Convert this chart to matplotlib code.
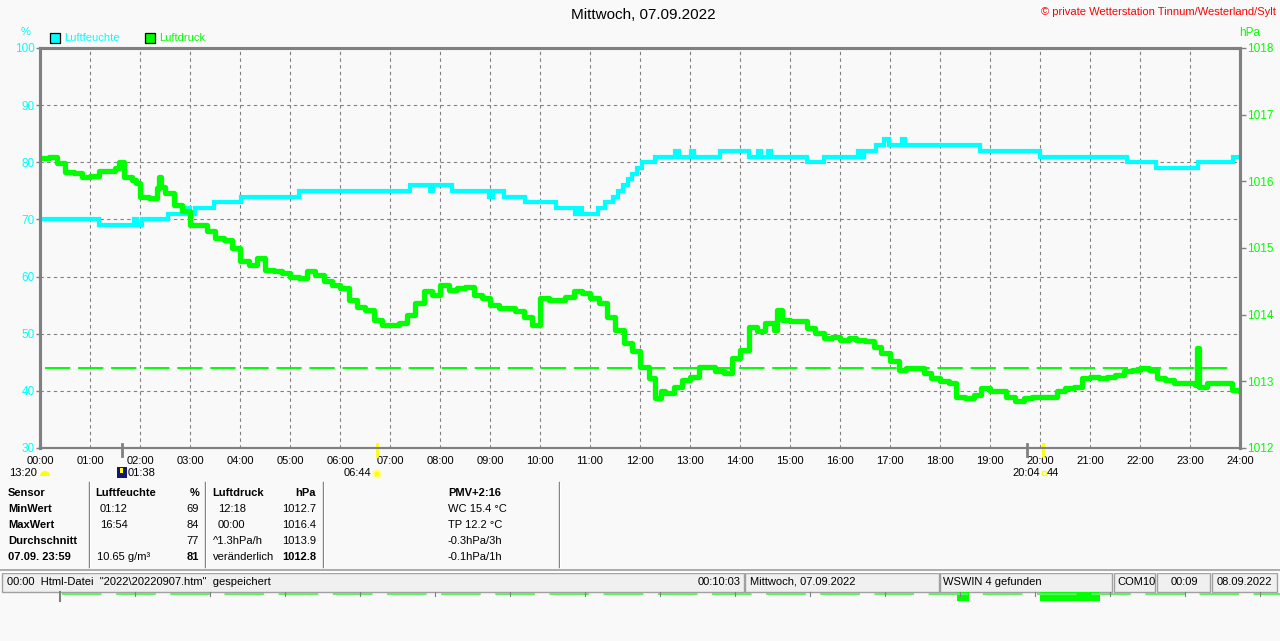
import matplotlib
matplotlib.use("Agg")
import matplotlib.pyplot as plt
from matplotlib.patches import Rectangle, Wedge, Circle

plt.rcParams['font.family'] = ['Liberation Sans', 'DejaVu Sans']

BG = "#f9f9f9"
CYAN = "#00ffff"
GREEN = "#00ff00"
GRAY = "#808080"

# Luftfeuchte (%), change points (hour, value), drawn as steps
hum_t = [0.0, 1.18, 1.87, 1.93, 2.03, 2.55, 2.93, 3.0, 3.1, 3.47, 4.01, 5.17,
         7.4, 7.8, 7.86, 8.23, 8.97, 9.05, 9.27, 9.7, 10.32, 10.7, 10.76, 10.84,
         11.16, 11.3, 11.45, 11.55, 11.65, 11.75, 11.83, 11.93, 12.03, 12.3,
         12.7, 12.78, 13.02, 13.08, 13.6, 14.17, 14.36, 14.42, 14.56, 14.61,
         15.33, 15.67, 16.35, 16.42, 16.47, 16.72, 16.87, 16.97, 17.23, 17.31,
         18.79, 20.0, 21.73, 22.32, 23.15, 23.85, 24.0]
hum_v = [70, 69, 70, 69, 70, 71, 72, 71, 72, 73, 74, 75,
         76, 75, 76, 75, 74, 75, 74, 73, 72, 71, 72, 71,
         72, 73, 74, 75, 76, 77, 78, 79, 80, 81,
         82, 81, 82, 81, 82, 81, 82, 81, 82, 81,
         80, 81, 82, 81, 82, 83, 84, 83, 84, 83,
         82, 81, 80, 79, 80, 81, 81]

# Luftdruck (hPa)
press_t = [0.00, 0.17, 0.33, 0.50, 0.67, 0.83, 1.00, 1.17, 1.33, 1.50, 1.58, 1.67,
           1.83, 1.92, 2.00, 2.17, 2.33, 2.37, 2.42, 2.50, 2.67, 2.83, 3.00, 3.17,
           3.33, 3.50, 3.67, 3.83, 4.00, 4.17, 4.33, 4.50, 4.67, 4.83, 5.00, 5.17,
           5.33, 5.50, 5.67, 5.83, 6.00, 6.17, 6.33, 6.50, 6.67, 6.83, 7.00, 7.17,
           7.33, 7.50, 7.67, 7.83, 8.00, 8.17, 8.33, 8.50, 8.67, 8.83, 9.00, 9.17,
           9.33, 9.50, 9.67, 9.83, 10.00, 10.17, 10.33, 10.50, 10.67, 10.83, 11.00,
           11.17, 11.33, 11.50, 11.67, 11.83, 12.00, 12.17, 12.30, 12.42, 12.50,
           12.67, 12.83, 13.00, 13.17, 13.33, 13.50, 13.67, 13.83, 14.00, 14.17,
           14.33, 14.50, 14.67, 14.73, 14.83, 15.00, 15.17, 15.33, 15.50, 15.67,
           15.83, 16.00, 16.17, 16.33, 16.50, 16.67, 16.83, 17.00, 17.17, 17.33,
           17.50, 17.67, 17.83, 18.00, 18.17, 18.33, 18.50, 18.67, 18.83, 19.00,
           19.17, 19.33, 19.50, 19.67, 19.83, 20.00, 20.17, 20.33, 20.50, 20.67,
           20.83, 21.00, 21.17, 21.33, 21.50, 21.67, 21.83, 22.00, 22.17, 22.33,
           22.50, 22.67, 22.83, 23.00, 23.10, 23.13, 23.17, 23.33, 23.50, 23.67,
           23.83, 24.00]
press_v = [1016.35, 1016.37, 1016.27, 1016.14, 1016.12, 1016.07, 1016.08, 1016.15,
           1016.15, 1016.20, 1016.29, 1016.07, 1016.02, 1015.97, 1015.77, 1015.75,
           1015.90, 1016.07, 1015.92, 1015.82, 1015.65, 1015.55, 1015.35, 1015.35,
           1015.25, 1015.15, 1015.12, 1015.00, 1014.80, 1014.75, 1014.85, 1014.67,
           1014.65, 1014.62, 1014.57, 1014.55, 1014.65, 1014.60, 1014.50, 1014.45,
           1014.40, 1014.22, 1014.12, 1014.07, 1013.92, 1013.85, 1013.85, 1013.87,
           1014.00, 1014.17, 1014.35, 1014.30, 1014.45, 1014.37, 1014.40, 1014.42,
           1014.30, 1014.25, 1014.15, 1014.10, 1014.10, 1014.05, 1013.97, 1013.85,
           1014.25, 1014.22, 1014.22, 1014.27, 1014.35, 1014.32, 1014.25, 1014.17,
           1013.97, 1013.77, 1013.57, 1013.45, 1013.22, 1013.05, 1012.75, 1012.85,
           1012.82, 1012.92, 1013.02, 1013.07, 1013.22, 1013.22, 1013.15, 1013.12,
           1013.35, 1013.47, 1013.82, 1013.75, 1013.87, 1013.77, 1014.07, 1013.92,
           1013.90, 1013.90, 1013.80, 1013.72, 1013.65, 1013.67, 1013.62, 1013.65,
           1013.62, 1013.60, 1013.52, 1013.42, 1013.30, 1013.17, 1013.20, 1013.20,
           1013.12, 1013.05, 1013.00, 1012.97, 1012.77, 1012.75, 1012.80, 1012.90,
           1012.85, 1012.85, 1012.77, 1012.71, 1012.75, 1012.77, 1012.77, 1012.77,
           1012.85, 1012.90, 1012.92, 1013.05, 1013.07, 1013.05, 1013.07, 1013.10,
           1013.15, 1013.17, 1013.20, 1013.17, 1013.05, 1013.02, 1012.97, 1012.97,
           1012.97, 1012.95, 1013.50, 1012.92, 1012.97, 1012.97, 1012.97, 1012.87,
           1012.85]
press_ref = 1013.2

hours = list(range(25))
hour_labels = ["%02d:00" % h for h in hours]
hum_ticks = list(range(30, 101, 10))
press_ticks = list(range(1012, 1019))

# sun / moon events (hours)
moon_rise = 1 + 38 / 60
sun_rise = 6 + 44 / 60
moon_set = 19 + 44 / 60
sun_set = 20 + 4 / 60

table_rows = [
    ["Sensor", "Luftfeuchte", "%", "Luftdruck", "hPa", "PMV+2:16"],
    ["MinWert", "01:12", "69", "12:18", "1012.7", "WC 15.4 °C"],
    ["MaxWert", "16:54", "84", "00:00", "1016.4", "TP 12.2 °C"],
    ["Durchschnitt", "", "77", "^1.3hPa/h", "1013.9", "-0.3hPa/3h"],
    ["07.09. 23:59", "10.65 g/m³", "81", "veränderlich", "1012.8", "-0.1hPa/1h"],
]

W, H = 1280, 641
fig = plt.figure(figsize=(W / 100, H / 100), dpi=100, facecolor=BG)

# overlay in pixel coordinates for the window decorations
ov = fig.add_axes([0, 0, 1, 1])
ov.set_xlim(0, W)
ov.set_ylim(H, 0)
ov.axis("off")

ax = fig.add_axes([40 / W, 1 - 448 / H, 1200 / W, 400 / H], facecolor=BG)
ax2 = ax.twinx()

ax.plot(hum_t, hum_v, color=CYAN, lw=3.0, drawstyle="steps-post", solid_joinstyle="miter")
ax2.plot(press_t, press_v, color=GREEN, lw=3.8, drawstyle="steps-post")
ax2.axhline(press_ref, xmin=0.004, xmax=0.992, color=GREEN, lw=1.4, dashes=(13, 4))

ax.set_xlim(0, 24)
ax.set_ylim(30, 100)
ax2.set_ylim(1012, 1018)
ax.set_xticks(hours)
ax.set_xticklabels(hour_labels)
ax.set_yticks(hum_ticks)
ax2.set_yticks(press_ticks)
ax.grid(True, color=GRAY, lw=0.8, dashes=(3, 3))

for a in (ax, ax2):
    for s in a.spines.values():
        s.set_color(GRAY)
        s.set_linewidth(2.2)
    a.spines["bottom"].set_linewidth(1.5)

ax.tick_params(axis="x", length=0, pad=6, labelsize=8, labelcolor="black")
ax.tick_params(axis="y", length=3, width=1, color=GRAY, pad=1, labelsize=8.5, labelcolor=CYAN)
ax2.tick_params(axis="y", length=4, width=1, color=GRAY, pad=1, labelsize=8.5, labelcolor=GREEN)

# event marks on the time axis
tr = ax.get_xaxis_transform()
for t, c in [(moon_rise, GRAY), (sun_rise, "#ffff00"), (moon_set, GRAY), (sun_set, "#ffff00")]:
    ax.plot([t, t], [0.01, -0.021], transform=tr, color=c, lw=2, clip_on=False, zorder=5)

# titles and legend
ov.text(643, 15, "Mittwoch, 07.09.2022", ha="center", va="center", fontsize=11)
ov.text(1276, 12, "© private Wetterstation Tinnum/Westerland/Sylt", ha="right", va="center",
        fontsize=8, color="red")
ov.text(26, 32, "%", ha="center", va="center", fontsize=8, color=CYAN)
ov.text(1250, 33, "hPa", ha="center", va="center", fontsize=8.5, color=GREEN)
ov.add_patch(Rectangle((50, 33), 10, 9.5, facecolor=CYAN, edgecolor="black", lw=0.9))
ov.text(64, 38, "Luftfeuchte", va="center", fontsize=8, color=CYAN)
ov.add_patch(Rectangle((145, 33), 10, 9.5, facecolor=GREEN, edgecolor="black", lw=0.9))
ov.text(159, 38, "Luftdruck", va="center", fontsize=8, color=GREEN)

# sun / moon annotations
ov.text(37, 473, "13:20", ha="right", va="center", fontsize=8)
ov.add_patch(Wedge((45, 476), 5, 180, 360, facecolor="#ffff00", edgecolor="none"))
ov.add_patch(Rectangle((117, 467), 10, 11, facecolor="#14147a", edgecolor="none"))
ov.add_patch(Rectangle((120, 468), 3, 5, facecolor="#ffff00", edgecolor="none"))
ov.text(128, 473, "01:38", va="center", fontsize=8)
ov.text(371, 473, "06:44", ha="right", va="center", fontsize=8)
ov.add_patch(Circle((377, 474), 3.5, facecolor="#ffff00", edgecolor="#ffff80", lw=1.5))
ov.text(1040, 473, "20:04", ha="right", va="center", fontsize=8)
ov.add_patch(Rectangle((1042, 471), 4, 4, facecolor="none", edgecolor="#ffff00", lw=0.8))
ov.text(1047, 473, "44", va="center", fontsize=8)

# statistics table
row_y = [493, 509, 525.5, 541.5, 557.5]
col_x = [8, 100, 199, 218, 316, 448]
col_ha = ["left", "left", "right", "left", "right", "left"]
for r, row in enumerate(table_rows):
    for c, txt in enumerate(row):
        bold = r == 0 or c == 0 or (r == 4 and c in (2, 4))
        x = col_x[c]
        if r == 0 and c in (1, 3):
            x = [95, 212][c // 2]
        if r == 3 and c == 3 or r == 4 and c == 3:
            x = 213
        if r == 4 and c == 1:
            x = 97
        ov.text(x, row_y[r], txt, ha=col_ha[c], va="center", fontsize=8,
                fontweight="bold" if bold else "normal")
for x in (89, 205, 323, 559):
    ov.plot([x, x], [482, 567], color=GRAY, lw=1)
    ov.plot([x + 1, x + 1], [482, 567], color="white", lw=0.8)
ov.plot([0, W], [570, 570], color="#a0a0a0", lw=1.2)
ov.plot([0, W], [571.5, 571.5], color="white", lw=0.8)

# status bar
boxes = [(2, 744), (745, 939), (940, 1112), (1114, 1155), (1157, 1210), (1212, 1277)]
for x0, x1 in boxes:
    ov.add_patch(Rectangle((x0, 573), x1 - x0, 18.5, facecolor="#f0f0f0", edgecolor="#a0a0a0", lw=1))
sy = 582
ov.text(7, sy, '00:00  Html-Datei  "2022\\20220907.htm"  gespeichert', va="center", fontsize=8)
ov.text(741, sy, "00:10:03", ha="right", va="center", fontsize=8)
ov.text(750, sy, "Mittwoch, 07.09.2022", va="center", fontsize=8)
ov.text(943, sy, "WSWIN 4 gefunden", va="center", fontsize=8)
ov.text(1117, sy, "COM10", va="center", fontsize=8)
ov.text(1184, sy, "00:09", ha="center", va="center", fontsize=8)
ov.text(1217, sy, "08.09.2022", va="center", fontsize=8)

# remnant of the next chart below
ov.plot([62, W], [593.5, 593.5], color="#66ee66", lw=1.5, dashes=(19, 7))
ov.plot([60, 60], [592, 601], color=GRAY, lw=1.5)
for x in range(135, 1270, 75):
    ov.plot([x, x], [592, 596], color=GRAY, lw=0.8)
ov.add_patch(Rectangle((957, 592), 12, 9, facecolor=GREEN, edgecolor="none"))
ov.add_patch(Rectangle((1040, 592), 60, 9, facecolor=GREEN, edgecolor="none"))

fig.savefig("out.png", dpi=100, facecolor=BG)
